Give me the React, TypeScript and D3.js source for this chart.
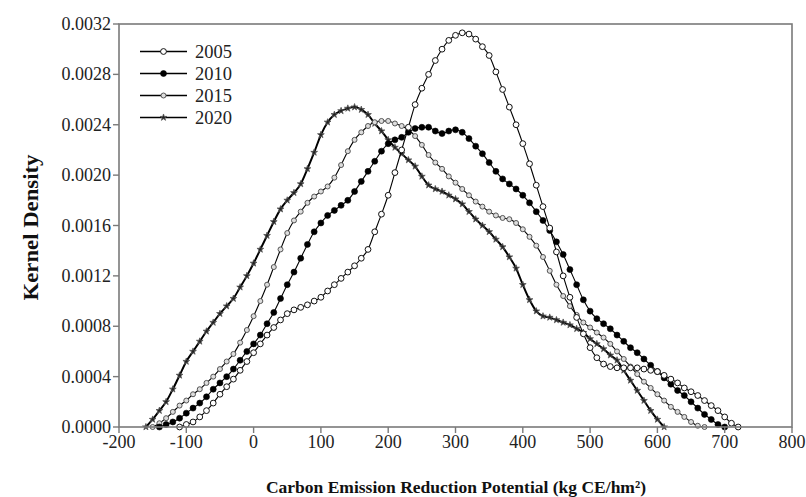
import React from "react";
import * as d3 from "d3";

const xTicks = [-200, -100, 0, 100, 200, 300, 400, 500, 600, 700, 800];
const yTicks = [0, 0.0004, 0.0008, 0.0012, 0.0016, 0.002, 0.0024, 0.0028, 0.0032];
const seriesNames = ["2005", "2010", "2015", "2020"];

// x positions (kg CE/hm²) at which each curve was read, step 10
const x2005 = [-110,-100,-90,-80,-70,-60,-50,-40,-30,-20,-10,0,10,20,30,40,50,60,70,80,90,100,110,120,130,140,150,160,170,180,190,200,210,220,230,240,250,260,270,280,290,300,310,320,330,340,350,360,370,380,390,400,410,420,430,440,450,460,470,480,490,500,510,520,530,540,550,560,570,580,590,600,610,620,630,640,650,660,670,680,690,700,710,720];
const y2005 = [0,0.00002,0.00004,0.00008,0.00013,0.00019,0.00026,0.00032,0.00038,0.00045,0.00052,0.00059,0.00066,0.00073,0.00079,0.00085,0.0009,0.00093,0.00095,0.00097,0.001,0.00103,0.00108,0.00113,0.00118,0.00123,0.00128,0.00134,0.00141,0.00155,0.00169,0.00184,0.00202,0.0022,0.00238,0.00256,0.00269,0.0028,0.00291,0.003,0.00307,0.00311,0.00313,0.00312,0.00308,0.00302,0.00295,0.00282,0.00268,0.00254,0.0024,0.00225,0.00209,0.00192,0.00175,0.00158,0.00139,0.0012,0.00103,0.00087,0.00074,0.00063,0.00055,0.0005,0.00048,0.00047,0.00047,0.00047,0.00047,0.00046,0.00045,0.00044,0.00041,0.00038,0.00035,0.00031,0.00028,0.00025,0.00021,0.00017,0.00013,0.00008,0.00003,0];

const x2010 = [-140,-130,-120,-110,-100,-90,-80,-70,-60,-50,-40,-30,-20,-10,0,10,20,30,40,50,60,70,80,90,100,110,120,130,140,150,160,170,180,190,200,210,220,230,240,250,260,270,280,290,300,310,320,330,340,350,360,370,380,390,400,410,420,430,440,450,460,470,480,490,500,510,520,530,540,550,560,570,580,590,600,610,620,630,640,650,660,670,680,690,700];
const y2010 = [0,0.00002,0.00004,0.00007,0.00011,0.00015,0.00019,0.00024,0.0003,0.00035,0.0004,0.00046,0.00053,0.0006,0.00066,0.00073,0.00082,0.00091,0.00102,0.00113,0.00123,0.00134,0.00145,0.00155,0.00162,0.00168,0.00172,0.00176,0.0018,0.00187,0.00195,0.00203,0.00211,0.00219,0.00225,0.00228,0.0023,0.00234,0.00237,0.00238,0.00238,0.00235,0.00233,0.00235,0.00236,0.00234,0.00229,0.00223,0.00217,0.0021,0.00203,0.00197,0.00193,0.00189,0.00184,0.00178,0.00171,0.00164,0.00156,0.00147,0.00137,0.00125,0.00113,0.00101,0.00092,0.00086,0.00082,0.00078,0.00073,0.00068,0.00063,0.00059,0.00054,0.00049,0.00044,0.00039,0.00034,0.00029,0.00025,0.0002,0.00015,0.0001,0.00006,0.00002,0];

const x2015 = [-150,-140,-130,-120,-110,-100,-90,-80,-70,-60,-50,-40,-30,-20,-10,0,10,20,30,40,50,60,70,80,90,100,110,120,130,140,150,160,170,180,190,200,210,220,230,240,250,260,270,280,290,300,310,320,330,340,350,360,370,380,390,400,410,420,430,440,450,460,470,480,490,500,510,520,530,540,550,560,570,580,590,600,610,620,630,640,650,660,670];
const y2015 = [0,0.00003,0.00007,0.00012,0.00017,0.00021,0.00026,0.0003,0.00035,0.0004,0.00046,0.00052,0.00058,0.00067,0.00077,0.00088,0.001,0.00113,0.00127,0.00141,0.00154,0.00164,0.00171,0.00178,0.00183,0.00187,0.00191,0.00198,0.00208,0.00219,0.00228,0.00234,0.00239,0.00242,0.00243,0.00243,0.00241,0.00239,0.00236,0.00231,0.00224,0.00216,0.0021,0.00205,0.00199,0.00194,0.00189,0.00184,0.00179,0.00175,0.00171,0.00168,0.00166,0.00165,0.00162,0.00157,0.00151,0.00144,0.00135,0.00124,0.00113,0.00104,0.00096,0.00089,0.00083,0.00079,0.00075,0.00071,0.00066,0.0006,0.00054,0.00048,0.00042,0.00036,0.00031,0.00026,0.00021,0.00016,0.00012,0.00008,0.00004,0.00001,0];

const x2020 = [-160,-150,-140,-130,-120,-110,-100,-90,-80,-70,-60,-50,-40,-30,-20,-10,0,10,20,30,40,50,60,70,80,90,100,110,120,130,140,150,160,170,180,190,200,210,220,230,240,250,260,270,280,290,300,310,320,330,340,350,360,370,380,390,400,410,420,430,440,450,460,470,480,490,500,510,520,530,540,550,560,570,580,590,600,610];
const y2020 = [0,0.00006,0.00013,0.0002,0.0003,0.00041,0.00052,0.0006,0.00068,0.00076,0.00083,0.0009,0.00096,0.00102,0.00111,0.0012,0.0013,0.00141,0.00152,0.00163,0.00173,0.0018,0.00186,0.00193,0.00205,0.00218,0.00232,0.00242,0.00248,0.00251,0.00253,0.00254,0.00252,0.00248,0.00241,0.00235,0.00228,0.00222,0.00217,0.00212,0.00207,0.00199,0.00192,0.00189,0.00187,0.00184,0.00181,0.00177,0.00171,0.00165,0.0016,0.00155,0.00149,0.00143,0.00135,0.00126,0.00113,0.00101,0.00092,0.00088,0.00087,0.00085,0.00083,0.00081,0.00078,0.00075,0.0007,0.00066,0.00062,0.00057,0.00053,0.00045,0.00037,0.00029,0.00021,0.00013,0.00006,0];

const W = 806, H = 497;
const M = { left: 119, right: 792, top: 24, bottom: 427 };
const FONT = "'Liberation Serif', 'Times New Roman', serif";

type Pt = [number, number];

function Marker({ kind, x, y }: { kind: number; x: number; y: number }) {
  if (kind === 0) return <circle cx={x} cy={y} r={2.9} fill="#fff" stroke="#111" strokeWidth={1} />;
  if (kind === 1) return <circle cx={x} cy={y} r={3} fill="#000" stroke="#000" strokeWidth={0.6} />;
  if (kind === 2) return <circle cx={x} cy={y} r={2.5} fill="#ddd" stroke="#555" strokeWidth={1} />;
  const star = d3.symbol().type(d3.symbolStar).size(14)() || "";
  return <path d={star} transform={`translate(${x},${y})`} fill="#222" stroke="#555" strokeWidth={0.8} />;
}

export default function App() {
  const x = d3.scaleLinear().domain([-200, 800]).range([M.left, M.right]);
  const y = d3.scaleLinear().domain([0, 0.0032]).range([M.bottom, M.top]);
  const series: { xs: number[]; ys: number[] }[] = [
    { xs: x2005, ys: y2005 },
    { xs: x2010, ys: y2010 },
    { xs: x2015, ys: y2015 },
    { xs: x2020, ys: y2020 },
  ];
  const line = d3.line<Pt>().x((d) => x(d[0])).y((d) => y(d[1])).curve(d3.curveMonotoneX);
  const axisColor = "#7a7a7a";
  const drawOrder = [3, 2, 1, 0];
  const legendY = [51.5, 73.5, 95.5, 117.5];

  return (
    <svg width={W} height={H} style={{ position: "absolute", left: 0, top: 0, background: "#fff" }} fontFamily={FONT}>
      <rect x={0} y={0} width={W} height={H} fill="#fff" />
      {drawOrder.map((k) => {
        const s = series[k];
        const pts: Pt[] = s.xs.map((v, i) => [v, s.ys[i]]);
        return (
          <g key={k}>
            <path d={line(pts) || ""} fill="none" stroke="#000" strokeWidth={k === 3 ? 2 : 1.1} />
            {pts.map((p, i) => (
              <Marker key={i} kind={k} x={x(p[0])} y={y(p[1])} />
            ))}
          </g>
        );
      })}
      <rect x={M.left} y={M.top} width={M.right - M.left} height={M.bottom - M.top} fill="none" stroke={axisColor} strokeWidth={1.6} />
      {yTicks.map((t) => (
        <g key={t}>
          <line x1={M.left - 6} x2={M.left} y1={y(t)} y2={y(t)} stroke={axisColor} strokeWidth={1.4} />
          <text x={M.left - 8} y={y(t)} dy="0.34em" textAnchor="end" fontSize={18} fill="#222">
            {t.toFixed(4)}
          </text>
        </g>
      ))}
      {xTicks.map((t) => (
        <g key={t}>
          <line x1={x(t)} x2={x(t)} y1={M.bottom} y2={M.bottom + 6} stroke={axisColor} strokeWidth={1.4} />
          <text x={x(t)} y={M.bottom + 21} textAnchor="middle" fontSize={18} fill="#222">
            {t}
          </text>
        </g>
      ))}
      <text x={456} y={493} textAnchor="middle" fontSize={17.5} fontWeight="bold" fill="#111">
        Carbon Emission Reduction Potential (kg CE/hm²)
      </text>
      <text
        transform={`translate(38,${(M.top + M.bottom) / 2 + 2}) rotate(-90)`}
        textAnchor="middle"
        fontSize={20}
        fontWeight="bold"
        fill="#111"
        textLength={146}
        lengthAdjust="spacingAndGlyphs"
      >
        Kernel Density
      </text>
      {seriesNames.map((n, k) => (
        <g key={n}>
          <line x1={140} x2={187} y1={legendY[k]} y2={legendY[k]} stroke="#000" strokeWidth={1.3} />
          <Marker kind={k} x={163.5} y={legendY[k]} />
          <text x={195} y={legendY[k]} dy="0.34em" fontSize={18.5} fill="#222">
            {n}
          </text>
        </g>
      ))}
    </svg>
  );
}
